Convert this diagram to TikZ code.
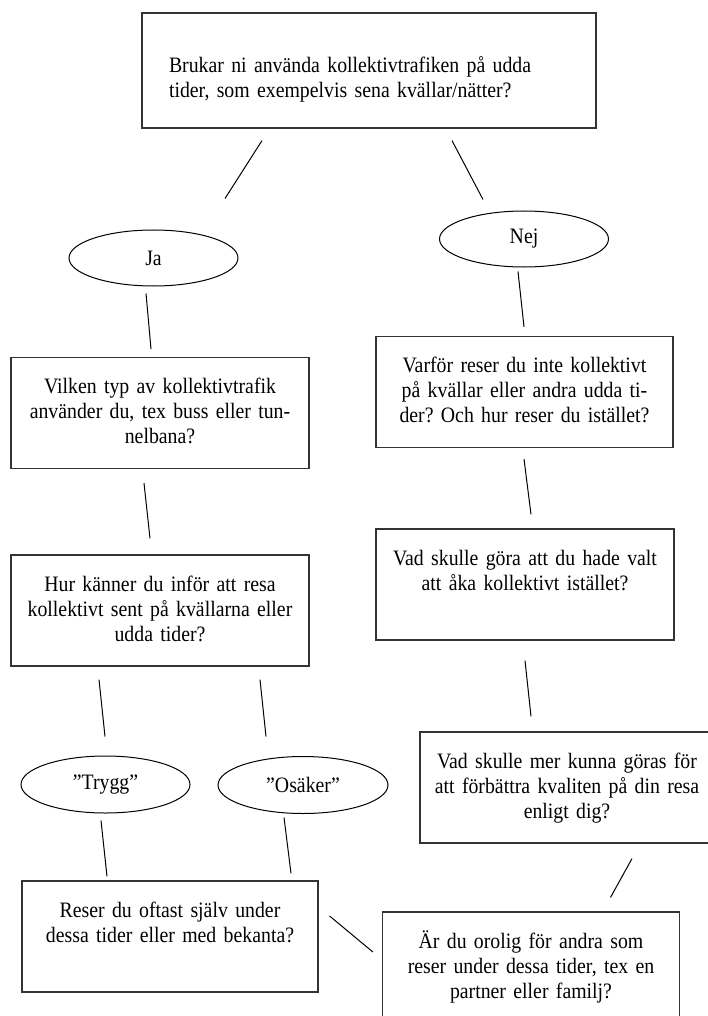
\documentclass[tikz,border=0pt]{standalone}
\usepackage{fontspec}
\setmainfont[FakeStretch=0.9]{Liberation Serif}
\usetikzlibrary{shapes.geometric}
\frenchspacing

\begin{document}
\begin{tikzpicture}[
    x=1pt, y=-1pt,
    font=\fontsize{22}{25}\selectfont,
    question/.style={rectangle, draw=black!80, line width=1.2pt, inner sep=0pt,
        text width=280pt, align=center, text height=36pt, text depth=75pt, minimum width=298pt},
    answer/.style={ellipse, draw=black, line width=1pt, inner sep=0pt, minimum width=169pt, minimum height=56pt},
    link line/.style={line width=1pt}
]
    \useasboundingbox (0,0) rectangle (707,1016);

    % Nodes
    \node[question, text width=400pt, align=left, minimum width=454pt, text height=60pt, text depth=55pt] (brukar) at (369,70.5)
        {Brukar ni använda kollektivtrafiken på udda\\tider, som exempelvis sena kvällar/nätter?};
    \node[answer] (ja) at (153.5,258) {Ja};
    \node[answer] (nej) at (524,239) {Nej};
    \node[question] (vilken) at (160,413) {Vilken typ av kollektivtrafik\\använder du, tex buss eller tun-\\nelbana?};
    \node[question, minimum width=297pt] (varfor) at (524.5,392) {Varför reser du inte kollektivt\\på kvällar eller andra udda ti-\\der? Och hur reser du istället?};
    \node[question] (hur) at (160,610.5) {Hur känner du inför att resa\\kollektivt sent på kvällarna eller\\udda tider?};
    \node[question] (vad) at (525,584.5) {Vad skulle göra att du hade valt\\att åka kollektivt istället?};
    \node[answer, minimum height=57pt] (trygg) at (105.5,784.5) {”Trygg”};
    \node[answer, minimum width=170pt, minimum height=57pt] (osaker) at (303,785) {”Osäker”};
    \node[question, minimum width=294pt] (vadmer) at (567,787.5) {Vad skulle mer kunna göras för\\att förbättra kvaliten på din resa\\enligt dig?};
    \node[question, minimum width=296pt] (reser) at (170,936.5) {Reser du oftast själv under\\dessa tider eller med bekanta?};
    \node[question, minimum width=297pt] (oro) at (531,967.5) {Är du orolig för andra som\\reser under dessa tider, tex en\\partner eller familj?};

    % Lines
    \draw[link line] ([xshift=-107pt, yshift=-12pt]brukar.south) -- ([xshift=71.5pt, yshift=31pt]ja.north);
    \draw[link line] ([xshift=83pt, yshift=-12pt]brukar.south) -- ([xshift=-41pt, yshift=11pt]nej.north);
    \draw[link line] ([xshift=-7.5pt, yshift=-7pt]ja.south) -- ([xshift=-9pt, yshift=8pt]vilken.north);
    \draw[link line] ([xshift=-6pt, yshift=-4pt]nej.south) -- ([xshift=-0.5pt, yshift=9pt]varfor.north);
    \draw[link line] ([xshift=-16pt, yshift=-14pt]vilken.south) -- ([xshift=-10pt, yshift=16pt]hur.north);
    \draw[link line] ([xshift=-0.5pt, yshift=-11pt]varfor.south) -- ([xshift=6pt, yshift=14pt]vad.north);
    \draw[link line] ([xshift=-61pt, yshift=-13pt]hur.south) -- ([xshift=-0.5pt, yshift=19pt]trygg.north);
    \draw[link line] ([xshift=100pt, yshift=-13pt]hur.south) -- ([xshift=-37pt, yshift=19.5pt]osaker.north);
    \draw[link line] ([yshift=-20pt]vad.south) -- ([xshift=-36pt, yshift=15pt]vadmer.north);
    \draw[link line] ([xshift=-4.5pt, yshift=-7pt]trygg.south) -- ([xshift=-63pt, yshift=4pt]reser.north);
    \draw[link line] ([xshift=-19pt, yshift=-3.5pt]osaker.south) -- ([xshift=121pt, yshift=7pt]reser.north);
    \draw[link line] ([xshift=65pt, yshift=-15pt]vadmer.south) -- ([xshift=79.5pt, yshift=14pt]oro.north);
    \draw[link line] ([xshift=11pt, yshift=20.5pt]reser.east) -- ([xshift=-9pt, yshift=15.5pt]oro.west);

\end{tikzpicture}
\end{document}
